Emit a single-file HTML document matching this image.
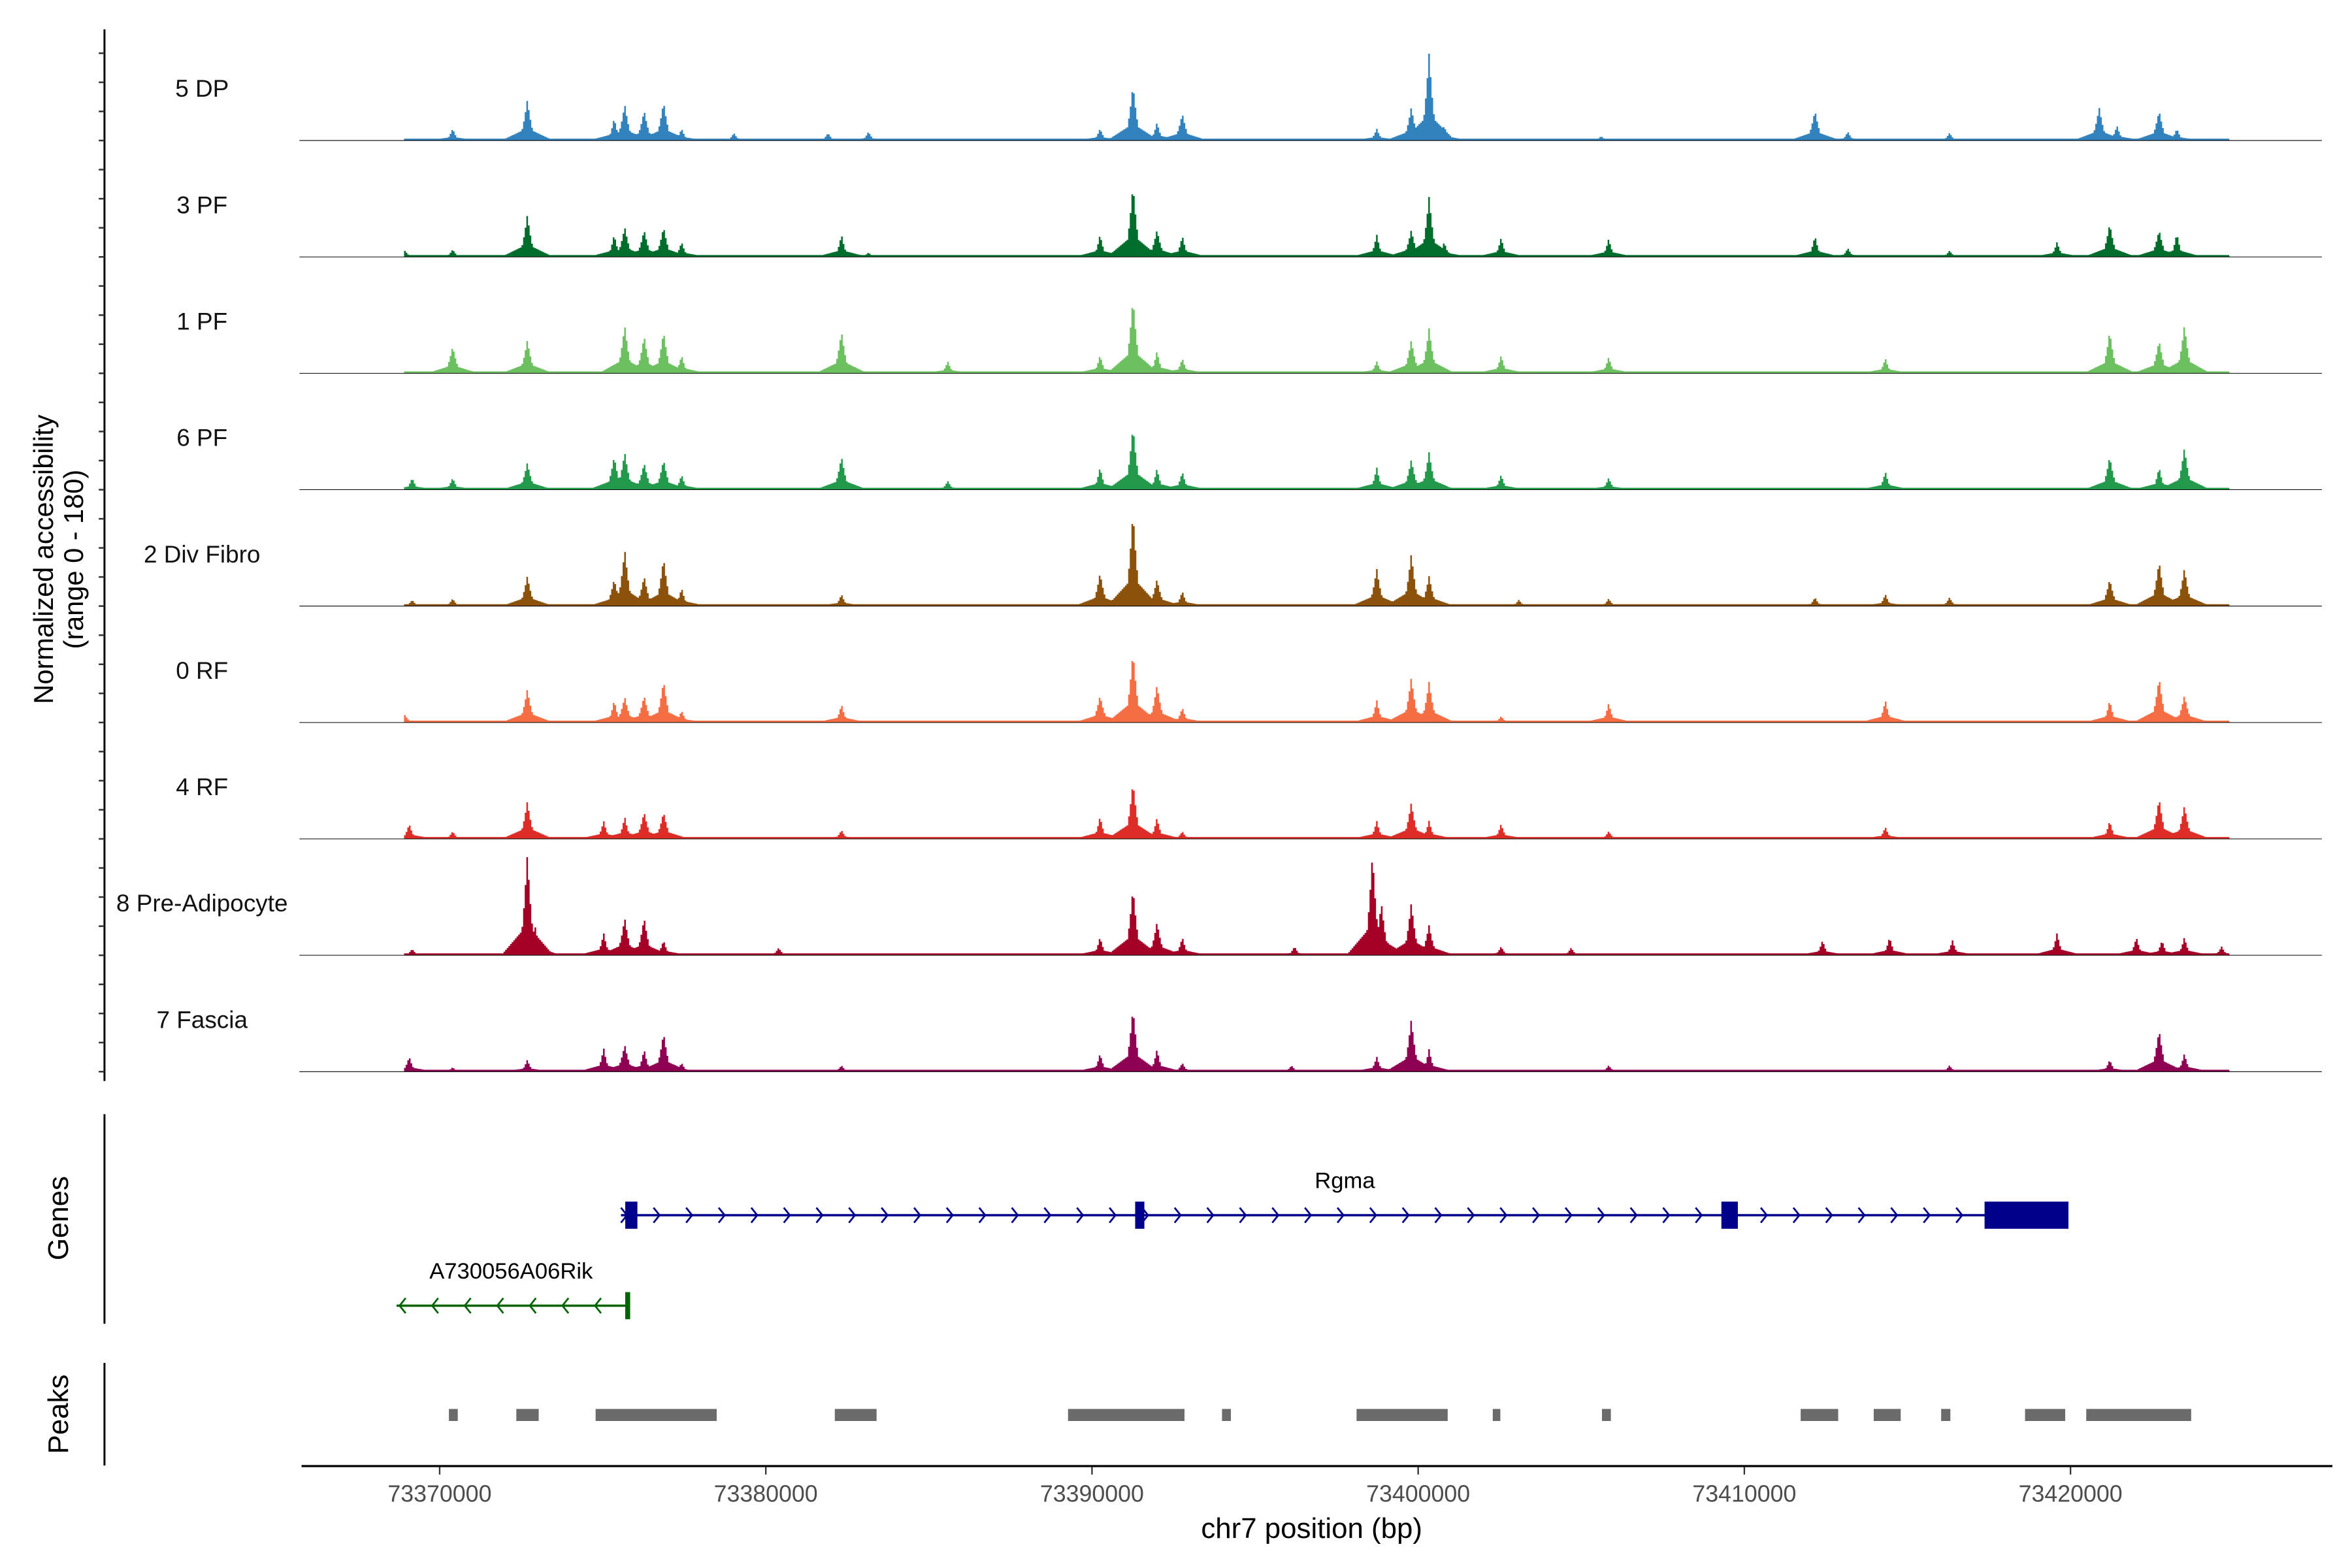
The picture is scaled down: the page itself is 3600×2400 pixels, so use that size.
<!DOCTYPE html>
<html><head><meta charset="utf-8"><style>
html,body{margin:0;padding:0;background:#fff;}
svg{display:block;font-family:"Liberation Sans",Arial,sans-serif;}
</style></head><body>
<svg id="chart" width="3600" height="2400" viewBox="0 0 1560 1040" xmlns="http://www.w3.org/2000/svg">
<rect x="0" y="0" width="1560" height="1040" fill="#fff"/>
<g id="tracks"></g>
<g id="genes"></g>
<g id="peaks"></g>
<g id="axes"></g>
</svg>
<script>
const NS = "http://www.w3.org/2000/svg";
const trackNames = ["5 DP","3 PF","1 PF","6 PF","2 Div Fibro","0 RF","4 RF","8 Pre-Adipocyte","7 Fascia"];
const trackColors = ["#3182bd","#006d2c","#6cc060","#239a4b","#8c510a","#f46d43","#de2d26","#a50026","#8e0152"];
const xTicks = [73370000,73380000,73390000,73400000,73410000,73420000];
const bgLevel = 3;
const covStart = 73368909, covEnd = 73424886;
// peaks: [position bp, accessibility value]
const t5DP = [[73370375,19],[73372664,65],[73375327,36],[73375650,58],[73376245,48],[73376840,62],[73377394,19],[73378998,12],[73381883,12],[73383123,14],[73390224,19],[73391232,89],[73391969,29],[73392745,43],[73398706,19],[73399765,53],[73400310,139],[73400774,24],[73405585,7],[73412141,48],[73413149,14],[73416266,12],[73420855,53],[73421400,24],[73422691,48],[73423235,19]];
const t3PF = [[73368912,10],[73370375,12],[73372664,67],[73375327,36],[73375650,48],[73376245,43],[73376840,48],[73377394,24],[73382296,36],[73383123,7],[73390224,36],[73391232,115],[73391969,43],[73392745,34],[73398706,36],[73399765,43],[73400310,96],[73400774,24],[73402519,31],[73405817,29],[73412141,34],[73413149,14],[73416266,10],[73419564,24],[73421178,53],[73422691,43],[73423235,38]];
const t1PF = [[73370375,43],[73372664,53],[73375650,77],[73376245,60],[73376840,67],[73377394,29],[73382296,67],[73385554,19],[73390224,29],[73391232,120],[73391969,36],[73392745,24],[73398706,19],[73399765,53],[73400310,72],[73402519,29],[73405817,26],[73414299,24],[73421178,67],[73422691,53],[73423467,77]];
const t6PF = [[73369134,19],[73370375,19],[73372664,43],[73375327,53],[73375650,60],[73376245,43],[73376840,48],[73377394,24],[73382296,53],[73385554,14],[73390224,36],[73391232,101],[73391969,34],[73392745,29],[73398706,36],[73399765,48],[73400310,60],[73402519,24],[73405817,19],[73414299,29],[73421178,53],[73422691,36],[73423467,67]];
const tDiv = [[73369134,10],[73370375,12],[73372664,48],[73375327,43],[73375650,91],[73376245,48],[73376840,77],[73377394,29],[73382296,19],[73390224,53],[73391232,151],[73391969,43],[73392745,24],[73398706,60],[73399765,84],[73400310,48],[73403063,10],[73405817,12],[73412141,14],[73414299,19],[73416266,14],[73421178,43],[73422691,72],[73423467,60]];
const t0RF = [[73368912,12],[73372664,53],[73375327,36],[73375650,41],[73376245,43],[73376840,67],[73377394,19],[73382296,29],[73390224,43],[73391232,113],[73391969,60],[73392745,24],[73398706,36],[73399765,72],[73400310,65],[73402519,10],[73405817,31],[73414299,36],[73421178,36],[73422691,72],[73423467,43]];
const t4RF = [[73369043,24],[73370375,12],[73372664,60],[73375004,29],[73375650,36],[73376245,43],[73376840,43],[73382296,14],[73390224,36],[73391232,91],[73391969,34],[73392745,12],[73398706,29],[73399765,58],[73400310,29],[73402519,24],[73405817,12],[73414299,19],[73421178,29],[73422691,65],[73423467,53]];
const tPre = [[73369134,10],[73372664,161],[73372896,48],[73375004,36],[73375650,60],[73376245,60],[73376840,24],[73380370,12],[73390224,29],[73391232,108],[73391969,53],[73392745,29],[73396185,14],[73398575,163],[73398847,84],[73399765,84],[73400310,48],[73402519,14],[73404667,12],[73412373,24],[73414430,29],[73416357,24],[73419564,36],[73421995,29],[73422781,24],[73423467,29],[73424607,14]];
const tFas = [[73369043,24],[73370375,7],[73372664,19],[73375004,38],[73375650,43],[73376245,36],[73376840,62],[73377394,14],[73382296,10],[73390224,29],[73391232,101],[73391969,36],[73392745,14],[73396094,10],[73398706,24],[73399765,84],[73400310,36],[73405817,10],[73416266,10],[73421178,19],[73422691,67],[73423467,29]];
const trackData = [t5DP,t3PF,t1PF,t6PF,tDiv,t0RF,t4RF,tPre,tFas];
const peakRegions = [[73370284,73370556],[73372351,73373037],[73374782,73378494],[73382115,73383396],[73389266,73392836],[73393986,73394258],[73398111,73400905],[73402287,73402519],[73405635,73405908],[73411727,73412877],[73413966,73414794],[73416034,73416316],[73418606,73419837],[73420482,73423699]];
const rgmaSpan = [73375559,73419937];
const rgmaExons = [[73375690,73376063],[73391323,73391606],[73409296,73409801],[73417365,73419937]];
const rikSpan = [73368680,73375791];
const rikExons = [[73375690,73375841]];

const xs = bp => 291.6 + (bp - 73370000) * 0.021634;
const unitPx = 75 / 180;
const baselines = trackNames.map((_, i) => 93.2 + 77.2 * i);
function mk(tag, attrs, parent){ const e=document.createElementNS(NS,tag); for(const k in attrs) e.setAttribute(k,attrs[k]); parent.appendChild(e); return e; }

const tracksG = document.getElementById('tracks');
trackData.forEach((peaks, ti) => {
  const base = baselines[ti];
  const g = mk('g', {}, tracksG);
  
  
  let d = 'M' + xs(covStart).toFixed(2) + ',' + base;
  let prevY = null;
  for (let bp = covStart; bp <= covEnd; bp += 50) {
    let v = bgLevel;
    for (const [p, h] of peaks) {
      const w = h > 40 ? 330 : 260;
      const dd = Math.abs(bp - p);
      if (dd < w) { const f = 1 - dd / w; v = Math.max(v, h * f * f); }
      const wb = 800;
      if (dd < wb) { const f = 1 - dd / wb; v = Math.max(v, h * 0.3 * f); }
    }
    const y = (base - v * unitPx).toFixed(2);
    const x = xs(bp).toFixed(2);
    if (prevY !== null) d += ' L' + x + ',' + prevY;
    d += ' L' + x + ',' + y;
    prevY = y;
  }
  d += ' L' + xs(covEnd).toFixed(2) + ',' + base + ' Z';
  const path = mk('path', {d: d, fill: trackColors[ti]}, g);
  
  
  const bl = mk('line', {x1:198.6, x2:1540, y1:base, y2:base, stroke:'#000', 'stroke-width':0.45}, g);
  
  
  const lab = mk('text', {x:134, y:base-29, 'font-size':16, 'text-anchor':'middle', fill:'#111'}, g);
  lab.textContent = trackNames[ti];
  
  
});

const axes = document.getElementById('axes');
function line(x1,y1,x2,y2,stroke,w,name,parent){ const l=mk('line',{x1,y1,x2,y2,stroke,'stroke-width':w},parent||axes);   return l; }
line(69.3,19.5,69.3,717,'#000',1.3,'y-axis-line');
for (let k = -3; k <= 32; k++) { const y = 93.2 + 19.3 * k; line(65.5,y,69.3,y,'#333',1.1,'y-tick'); }
function rtext(x,y,txt,size,name){ const t=mk('text',{x:0,y:0,transform:`translate(${x},${y}) rotate(-90)`,'font-size':size,'text-anchor':'middle',fill:'#000'},axes); t.textContent=txt;   }
rtext(35,371,'Normalized accessibility',18,'y-axis-title');
rtext(55,371,'(range 0 - 180)',18,'y-axis-subtitle');
line(69.3,739,69.3,878,'#000',1.3,'genes-axis-line');
rtext(45,808,'Genes',19,'genes-title');
line(69.3,904,69.3,972,'#000',1.3,'peaks-axis-line');
rtext(45,938,'Peaks',19,'peaks-title');
line(200,972.4,1547,972.4,'#000',1.4,'x-axis-line');
xTicks.forEach(t => {
  line(xs(t),973,xs(t),978,'#333',1,'x-tick');
  const tx = mk('text',{x:xs(t),y:996,'font-size':15.5,'text-anchor':'middle',fill:'#4d4d4d'},axes);
  tx.textContent = String(t);
  
  
});
const xt = mk('text',{x:870,y:1020,'font-size':19,'text-anchor':'middle',fill:'#000'},axes);
xt.textContent = 'chr7 position (bp)';



const genesG = document.getElementById('genes');
function gene(span, exons, y, color, dir, label, lx, ly, name){
  const g = mk('g', {}, genesG);
  
  
  line(xs(span[0]),y,xs(span[1]),y,color,1.5,'gene-line',g);
  const step = 21.6;
  const a = xs(span[0]) + (dir > 0 ? 2 : 4), b = xs(span[1]) - 8;
  for (let x = a; x <= b; x += step) {
    const p = dir > 0 ? `M${x-2},${y-5} L${x+2},${y} L${x-2},${y+5}` : `M${x+2},${y-5} L${x-2},${y} L${x+2},${y+5}`;
    const ar = mk('path',{d:p,fill:'none',stroke:color,'stroke-width':1.2},g);
    
    
  }
  exons.forEach(e => {
    const r = mk('rect',{x:xs(e[0]),y:y-9,width:Math.max(3,xs(e[1])-xs(e[0])),height:18,fill:color},g);
    
    
  });
  const t = mk('text',{x:lx,y:ly,'font-size':15,'text-anchor':'middle',fill:'#000'},g);
  t.textContent = label;
  
  
}
gene(rgmaSpan, rgmaExons, 806, '#00008b', 1, 'Rgma', 892, 788, 'gene-rgma');
gene(rikSpan, rikExons, 866, '#006400', -1, 'A730056A06Rik', 339, 848, 'gene-a730056a06rik');

const peaksG = document.getElementById('peaks');
peakRegions.forEach(p => {
  const r = mk('rect',{x:xs(p[0]),y:934.5,width:xs(p[1])-xs(p[0]),height:8,fill:'#6b6b6b'},peaksG);
  
  
});
</script>
</body></html>
